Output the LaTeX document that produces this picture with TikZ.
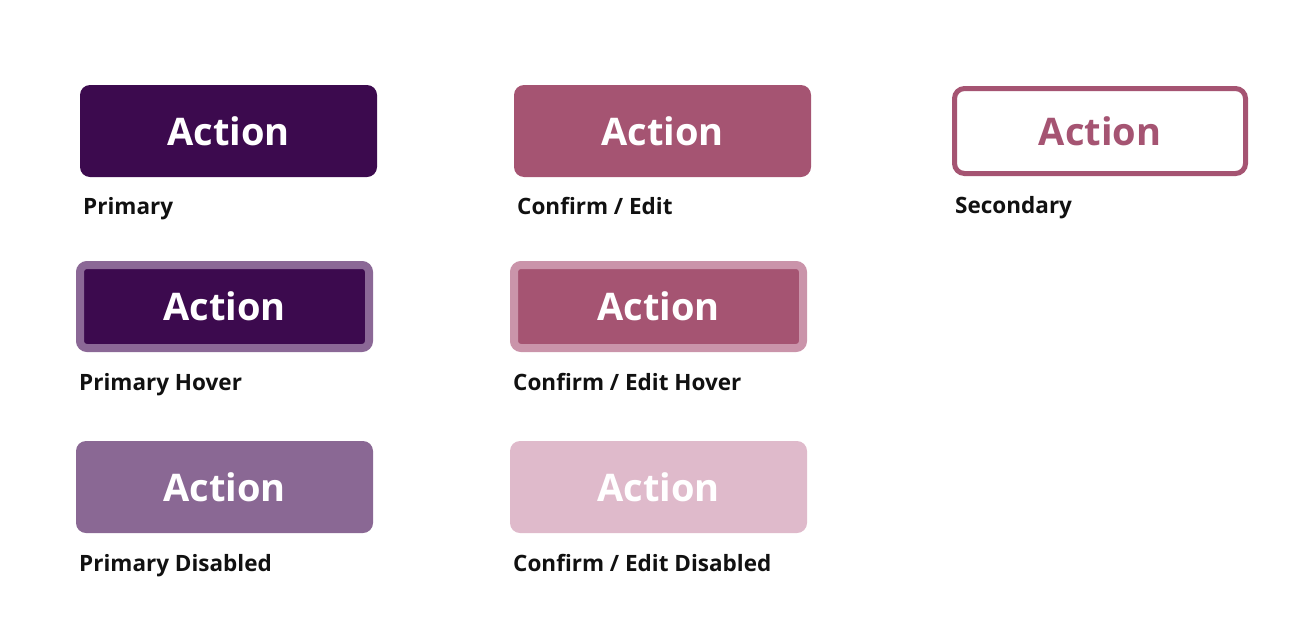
\documentclass[tikz,border=0pt]{standalone}
\usepackage{fontspec}
\setmainfont{Open Sans}
\usepackage{tikz}
\usetikzlibrary{positioning}
\definecolor{primarypurple}{RGB}{60, 10, 78}
\definecolor{confirmrose}{RGB}{165, 84, 114}
\definecolor{purplehalo}{RGB}{139, 104, 150}
\definecolor{rosehalo}{RGB}{202, 148, 170}
\definecolor{purplemuted}{RGB}{138, 104, 148}
\definecolor{rosemuted}{RGB}{223, 186, 203}
\definecolor{labelgrey}{RGB}{17, 17, 17}

\begin{document}
\begin{tikzpicture}[x=1pt, y=-1pt,
    btn/.style={rectangle, rounded corners=10pt, minimum width=297pt, minimum height=92pt, inner sep=0pt, outer sep=0pt, text=white, font=\fontsize{38}{44}\selectfont\bfseries},
    halo/.style={btn, rounded corners=7pt, line width=8pt, minimum width=289pt, minimum height=83pt},
    lbl/.style={anchor=base west, inner sep=0pt, text=labelgrey, font=\fontsize{22.5}{27}\selectfont\bfseries}
]
\useasboundingbox (0,0) rectangle (1308,640);

% Top row
\node (priBtn) [btn, fill=primarypurple, anchor=north west] at (80,85) {Action};
\node (cfmBtn) [btn, fill=confirmrose, right=137pt of priBtn] {Action};
\node (secBtn) [btn, draw=confirmrose, fill=white, text=confirmrose, line width=5pt, minimum width=291pt, minimum height=85pt, right=143.5pt of cfmBtn] {Action};

% Hover row
\node (priHover) [halo, draw=purplehalo, fill=primarypurple, anchor=north west] at (80,265) {Action};
\node (cfmHover) [halo, draw=rosehalo, fill=confirmrose, right=145pt of priHover] {Action};

% Disabled row
\node (priDis) [btn, fill=purplemuted, anchor=north west] at (76,441) {Action};
\node (cfmDis) [btn, fill=rosemuted, right=137pt of priDis] {Action};

% Labels
\node (priLbl) [lbl] at ([shift={(3,37)}]priBtn.south west) {Primary};
\node (cfmLbl) [lbl] at ([shift={(3,37)}]cfmBtn.south west) {Confirm / Edit};
\node (secLbl) [lbl] at ([shift={(0.5,39.5)}]secBtn.south west) {Secondary};
\node (priHoverLbl) [lbl] at ([shift={(-1,42)}]priHover.south west) {Primary Hover};
\node (cfmHoverLbl) [lbl] at ([shift={(-1,42)}]cfmHover.south west) {Confirm / Edit Hover};
\node (priDisLbl) [lbl] at ([shift={(3,38)}]priDis.south west) {Primary Disabled};
\node (cfmDisLbl) [lbl] at ([shift={(3,38)}]cfmDis.south west) {Confirm / Edit Disabled};

\end{tikzpicture}
\end{document}
